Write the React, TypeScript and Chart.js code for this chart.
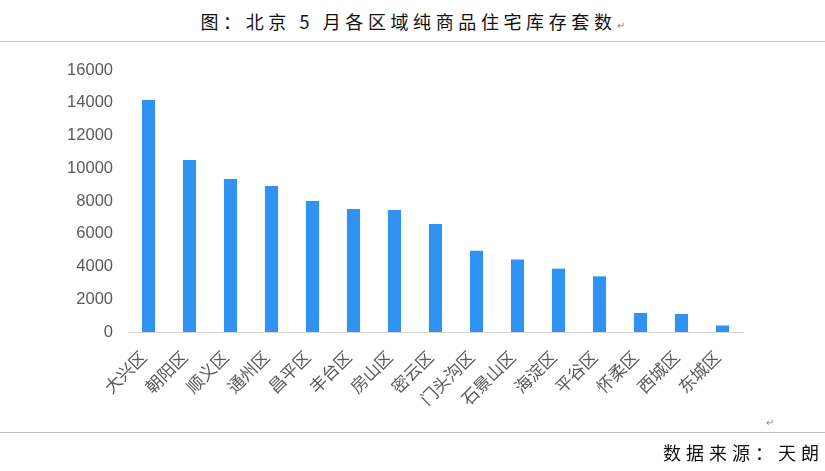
import React, { useEffect, useRef } from "react";
import { Chart, registerables } from "chart.js";

Chart.register(...registerables);

const categories = ["大兴区", "朝阳区", "顺义区", "通州区", "昌平区", "丰台区", "房山区", "密云区", "门头沟区", "石景山区", "海淀区", "平谷区", "怀柔区", "西城区", "东城区"];
const inventory = [14170, 10500, 9340, 8910, 8000, 7510, 7450, 6600, 4960, 4420, 3870, 3400, 1160, 1100, 400];
const yTicks = [0, 2000, 4000, 6000, 8000, 10000, 12000, 14000, 16000];
const titleText = "图：北京 5 月各区域纯商品住宅库存套数";
const sourceText = "数据来源：天朗";

const serifCJK = "'Noto Sans CJK SC', serif";
const tickFont = "'Liberation Sans', 'Noto Sans CJK SC', sans-serif";

export default function App() {
  const ref = useRef<HTMLCanvasElement | null>(null);
  useEffect(() => {
    if (!ref.current) return;
    const chart = new Chart(ref.current, {
      type: "bar",
      data: {
        labels: categories,
        datasets: [
          {
            data: inventory,
            backgroundColor: "#3093F3",
            barPercentage: 0.32,
            categoryPercentage: 1,
          },
        ],
      },
      options: {
        animation: false,
        responsive: false,
        maintainAspectRatio: false,
        layout: { padding: { top: 70, right: 82, left: 0, bottom: 0 } },
        plugins: { legend: { display: false }, tooltip: { enabled: false }, title: { display: false } },
        scales: {
          x: {
            grid: { display: false, drawTicks: false },
            border: { display: true, color: "#d9d9d9", width: 1 },
            ticks: {
              minRotation: 45,
              maxRotation: 45,
              color: "#595959",
              padding: 16,
              labelOffset: -4,
              font: { family: tickFont, size: 17 },
              autoSkip: false,
            },
            afterFit: (s: any) => {
              s.height = 98;
            },
          },
          y: {
            min: 0,
            max: 16000,
            afterBuildTicks: (s: any) => {
              s.ticks = yTicks.map((v) => ({ value: v }));
            },
            grid: { display: false, drawTicks: false },
            border: { display: false },
            ticks: {
              color: "#595959",
              padding: 15,
              font: { family: tickFont, size: 16.5 },
              callback: (v: any) => String(v),
            },
            afterFit: (s: any) => {
              s.width = 128;
            },
          },
        },
      },
    });
    return () => chart.destroy();
  }, []);

  return (
    <div style={{ position: "absolute", left: 0, top: 0, width: 825, height: 471, background: "#fff", overflow: "hidden" }}>
      <div
        style={{
          position: "absolute",
          left: 0,
          width: 825,
          top: 8,
          textAlign: "center",
          fontFamily: serifCJK,
          fontSize: 18,
          letterSpacing: 4.6,
          color: "#111",
          lineHeight: "26px",
        }}
      >
        {titleText}
        <span style={{ fontSize: 10, color: "#888", letterSpacing: 0 }}>↵</span>
      </div>
      <div style={{ position: "absolute", left: 0, top: 41, width: 825, height: 0, borderTop: "1.5px solid #c8c8c8" }} />
      <canvas ref={ref} width={825} height={430} style={{ position: "absolute", left: 0, top: 0, width: 825, height: 430 }} />
      <div style={{ position: "absolute", left: 766, top: 414, fontSize: 10, color: "#888", fontFamily: serifCJK }}>↵</div>
      <div style={{ position: "absolute", left: 0, top: 432, width: 825, height: 0, borderTop: "1.5px solid #c0c0c0" }} />
      <div
        style={{
          position: "absolute",
          right: 1,
          top: 439,
          fontFamily: serifCJK,
          fontSize: 18,
          letterSpacing: 5,
          color: "#111",
          lineHeight: "26px",
        }}
      >
        {sourceText}
      </div>
    </div>
  );
}
